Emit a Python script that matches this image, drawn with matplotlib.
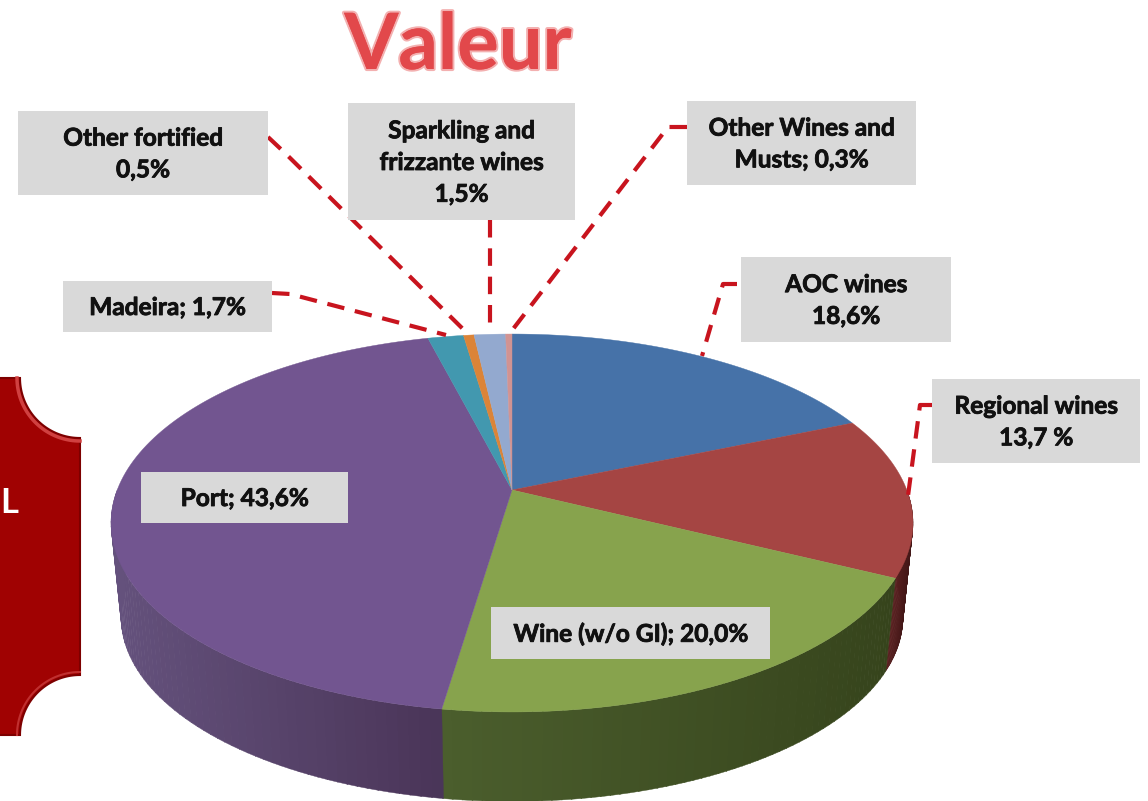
import numpy as np
import matplotlib
matplotlib.use('Agg')
import matplotlib.pyplot as plt
import matplotlib.patheffects as pe
from matplotlib.colors import to_rgb

# wedge shares, clockwise from the top
names = ['AOC wines', 'Regional wines', 'Wine (w/o GI)', 'Port', 'Madeira',
         'Other fortified', 'Sparkling and frizzante wines', 'Other Wines and Musts']
shares = [18.6, 13.7, 20.0, 43.6, 1.7, 0.5, 1.5, 0.3]
top_colors = ['#4672a8', '#a54543', '#87a34d', '#725590', '#4298af',
              '#db8438', '#93a9cf', '#d19392']
side_left = ['#3a5f8c', '#5a2020', '#4b5e2d', '#64517c', '#367e92',
             '#b56c2e', '#7a8cab', '#ad7a79']
side_right = ['#2f4d72', '#4a1a1a', '#36441c', '#4a3558', '#2c6878',
              '#955825', '#64748e', '#8f6564']

label_texts = ['AOC wines\n18,6%', 'Regional wines\n13,7 %', 'Wine (w/o GI); 20,0%',
               'Port; 43,6%', 'Madeira; 1,7%', 'Other fortified\n0,5%',
               'Sparkling and\nfrizzante wines\n1,5%', 'Other Wines and\nMusts; 0,3%']
# x0, x1, y0, y1 of the grey label boxes
label_boxes = [(741, 951, 257, 342), (932, 1140, 379, 463), (491, 770, 607, 659),
               (141, 348, 472, 523), (63, 272, 281, 332), (18, 268, 111, 195),
               (348, 575, 103, 220), (687, 916, 101, 185)]
leaders = [[(737, 284), (723, 284), (702, 356)],
           [(932, 405), (920, 405), (908, 496)],
           [(272, 293), (290, 294), (446, 335)],
           [(268, 137), (285, 153), (467, 333)],
           [(490, 220), (490, 333)],
           [(687, 127), (668, 127), (510, 333)]]

plt.rcParams['font.family'] = ['Lato', 'DejaVu Sans']

# pie geometry in pixels, perspective tilt k makes the near half bigger
cx, cy = 512, 490
rx, ry = 394.8, 183.2
k = 0.1746
depth, shrink = 95, 0.975


def rim(theta, dy=0, scale=1.0):
    u, v = np.sin(theta), np.cos(theta)
    d = 1 + k * v
    return cx + scale * rx * u / d, cy + dy - scale * ry * v / d


fig = plt.figure(figsize=(11.48, 8.01), dpi=100)
ax = fig.add_axes([0, 0, 1, 1])
ax.set_xlim(0, 1148)
ax.set_ylim(801, 0)
ax.axis('off')

edges = np.cumsum([0] + shares) / sum(shares) * 2 * np.pi

# side wall, only the near half can be seen
for i in range(len(shares)):
    a0, a1 = max(edges[i], np.pi / 2), min(edges[i + 1], 3 * np.pi / 2)
    if a1 <= a0:
        continue
    cuts = np.linspace(a0, a1, 60)
    c0, c1 = np.array(to_rgb(side_left[i])), np.array(to_rgb(side_right[i]))
    left, right = sorted([rim(a0)[0], rim(a1)[0]])
    for j in range(len(cuts) - 1):
        t = np.linspace(cuts[j], cuts[j + 1] + 0.002, 4)
        xt, yt = rim(t)
        xb, yb = rim(t, depth, shrink)
        # darker towards the right of the screen
        f = (xt.mean() - left) / (right - left)
        ax.fill(np.r_[xt, xb[::-1]], np.r_[yt, yb[::-1]],
                color=c0 + (c1 - c0) * f, lw=0.3, zorder=2)

# top face
for i in range(len(shares)):
    t = np.linspace(edges[i], edges[i + 1], 120)
    x, y = rim(t)
    ax.fill(np.r_[cx, x], np.r_[cy, y], color=top_colors[i], lw=0.3, zorder=3)

# red plaque cut off by the left edge
a = np.linspace(np.pi, np.pi / 2, 40)
b = np.linspace(3 * np.pi / 2, np.pi, 40)
px = np.r_[-5, 80 + 60 * np.cos(a), 80 + 60 * np.cos(b), -5]
py = np.r_[378, 378 + 60 * np.sin(a), 735 + 60 * np.sin(b), 735]
ax.fill(px, py, facecolor='#a00202', edgecolor='#7d0000', lw=1.5, zorder=2)
ax.plot(80 + 63 * np.cos(a), 378 + 63 * np.sin(a), color='#d04040', lw=2.5, zorder=3)
ax.plot(80 + 63 * np.cos(b), 735 + 63 * np.sin(b), color='#c03030', lw=1.5, zorder=3)
ax.text(18, 503, 'L', color='white', fontsize=25, fontweight='bold',
        ha='right', va='center', zorder=4)

# leader lines go under the boxes
for pts in leaders:
    xs, ys = zip(*pts)
    ax.plot(xs, ys, color='#c8141e', lw=3, ls=(0, (4.2, 2.6)), zorder=4)

bolder = [pe.withStroke(linewidth=0.6, foreground='#111111')]
for text, (x0, x1, y0, y1) in zip(label_texts, label_boxes):
    ax.fill([x0, x1, x1, x0], [y0, y0, y1, y1], color='#d9d9d9', lw=0, zorder=5)
    ax.text((x0 + x1) / 2, (y0 + y1) / 2 + 1, text, fontsize=17.6, fontweight='bold',
            color='#111111', ha='center', va='center', linespacing=1.46, zorder=6,
            path_effects=bolder)

ax.text(458, 69, 'Valeur', fontsize=56, fontweight='bold', color='#e2484b',
        ha='center', va='baseline', zorder=6,
        path_effects=[pe.withStroke(linewidth=3, foreground='#f3b0b0'),
                      pe.Normal()])

plt.savefig('out.png', dpi=100)
